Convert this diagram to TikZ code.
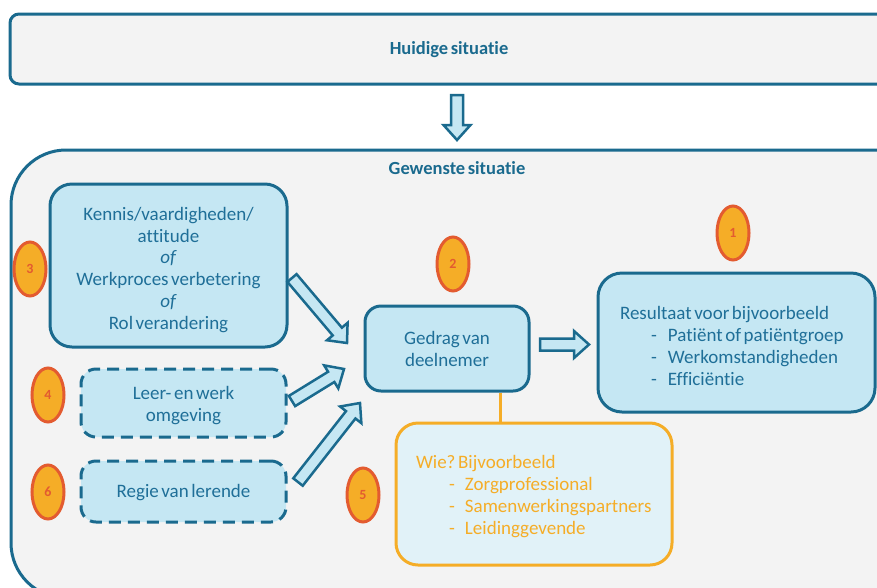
\documentclass[tikz,border=0pt]{standalone}
\usepackage{fontspec}
\setmainfont{Carlito}[WordSpace=0.6, Ligatures=NoCommon]
\usetikzlibrary{calc,shapes.geometric}
\definecolor{bord}{HTML}{1A6A8E}
\definecolor{txt}{HTML}{1F6F98}
\definecolor{lblue}{HTML}{C5E7F3}
\definecolor{pale}{HTML}{E1F2F8}
\definecolor{bg}{HTML}{F3F3F3}
\definecolor{orng}{HTML}{F5AD27}
\definecolor{rorng}{HTML}{E35B30}
\newcommand{\lowered}[2]{\raisebox{-#1}[\height][\depth]{\begin{tabular}{@{}c@{}}#2\end{tabular}}}
\newcommand{\natspace}{\spaceskip=0pt\xspaceskip=0pt\relax}
\tikzset{
  body/.style={font=\fontsize{19}{21.8}\selectfont\frenchspacing, text=txt},
  title/.style={font=\fontsize{18.5}{20}\selectfont\bfseries, text=bord},
  panel/.style={draw=bord, line width=3pt, fill=bg},
  bluebox/.style={draw=bord, line width=3pt, fill=lblue, body, align=center, inner sep=0pt},
  dashbox/.style={bluebox, dash pattern=on 12pt off 7pt},
  wiebox/.style={draw=orng, line width=3pt, fill=pale, font=\fontsize{19}{21.8}\selectfont\frenchspacing, text=orng},
  numoval/.style={ellipse, draw=rorng, line width=3pt, fill=orng, minimum width=32pt, minimum height=54pt,
    inner sep=0pt, text=rorng, font=\fontsize{14}{16}\selectfont\bfseries},
  blockarrow/.style={draw=bord, fill=lblue, line width=2.5pt, line join=miter,
    to path={let \p1=(\tikztostart), \p2=(\tikztotarget),
      \n1={atan2(\y2-\y1,\x2-\x1)}, \n2={veclen(\x2-\x1,\y2-\y1)} in
      ($(\p1)+(\n1+90:6pt)$) -- ++(\n1:{\n2-15pt}) -- ++(\n1+90:7.5pt) -- (\p2)
      -- ($(\p2)+(\n1+180:15pt)+(\n1-90:13.5pt)$) -- ++(\n1+90:7.5pt)
      -- ($(\p1)+(\n1-90:6pt)$) -- cycle}},
  orline/.style={draw=orng, line width=3pt}
}
\begin{document}
\begin{tikzpicture}[x=1pt,y=-1pt]
\useasboundingbox (0,0) rectangle (877,587);
\fill[white] (0,0) rectangle (877,587);
\begin{scope}
\clip (0,0) rectangle (877,587);
% top panel
\draw[panel, rounded corners=9pt] (10,14) rectangle (905,84);
\node[title] (huidig) at (449,50) {Huidige situatie};
% container
\draw[panel, rounded corners=55pt] (11,150) rectangle (930,598);
\node[title] (gewenst) at (457,168) {Gewenste situatie};
\end{scope}

% boxes
\node[bluebox, rounded corners=22pt, minimum width=237pt, minimum height=163pt] (A) at (168.5,265.5)
  {\lowered{5pt}{Kennis/vaardigheden/\\attitude\\\textit{of}\\Werkproces verbetering\\\textit{of}\\Rol verandering}};
\node[dashbox, rounded corners=15pt, minimum width=205pt, minimum height=68pt] (B) at (183.5,403)
  {\lowered{3pt}{Leer- en werk\\omgeving}};
\node[dashbox, rounded corners=15pt, minimum width=205pt, minimum height=61pt] (C) at (183.5,491.5)
  {\lowered{2pt}{Regie van lerende}};
\node[bluebox, rounded corners=16pt, minimum width=164pt, minimum height=85pt] (D) at (447,348.5)
  {\lowered{2.5pt}{Gedrag van\\deelnemer}};
\node[bluebox, rounded corners=24pt, minimum width=277pt, minimum height=139pt,
  text width=233pt, align=flush left, inner xsep=22pt] (E) at (736.5,342.5)
  {\natspace\rule{0pt}{20pt}Resultaat voor bijvoorbeeld\\
   \hspace*{31pt}\makebox[17pt][l]{-}Patiënt of patiëntgroep\\
   \hspace*{31pt}\makebox[17pt][l]{-}Werkomstandigheden\\
   \hspace*{31pt}\makebox[17pt][l]{-}Efficiëntie};
\node[wiebox, rounded corners=22pt, minimum width=276pt, minimum height=142pt,
  text width=236pt, align=flush left, inner xsep=20pt, inner ysep=0pt] (F) at (534,494)
  {\natspace\rule{0pt}{18pt}Wie? Bijvoorbeeld\\
   \hspace*{33pt}\makebox[16pt][l]{-}Zorgprofessional\\
   \hspace*{33pt}\makebox[16pt][l]{-}Samenwerkingspartners\\
   \hspace*{33pt}\makebox[16pt][l]{-}Leidinggevende};

% number ovals
\node[numoval] (n1) at (733,233) {1};
\node[numoval] (n2) at (453,264) {2};
\node[numoval] (n3) at (30,269) {3};
\node[numoval] (n4) at (48,395) {4};
\node[numoval] (n5) at (363,495) {5};
\node[numoval] (n6) at (48,492) {6};

% connector D - F
\path ([xshift=53pt]D.south) coordinate (dF);
\draw[orline] (dF) -- (dF |- F.north);

% block arrows
\coordinate (dn0) at (457,95);
\coordinate (dn1) at (457,140);
\coordinate (r0) at (540,344.5);
\coordinate (r1) at (589,344.5);
\coordinate (a0) at (292,278);
\coordinate (a1) at (347,343);
\coordinate (b0) at (292,401);
\coordinate (b1) at (344,369);
\coordinate (c0) at (298,482);
\coordinate (c1) at (360,403);
\draw[blockarrow] (dn0) to (dn1);
\draw[blockarrow] (r0) to (r1);
\draw[blockarrow] (a0) to (a1);
\draw[blockarrow] (b0) to (b1);
\draw[blockarrow] (c0) to (c1);
\end{tikzpicture}
\end{document}
